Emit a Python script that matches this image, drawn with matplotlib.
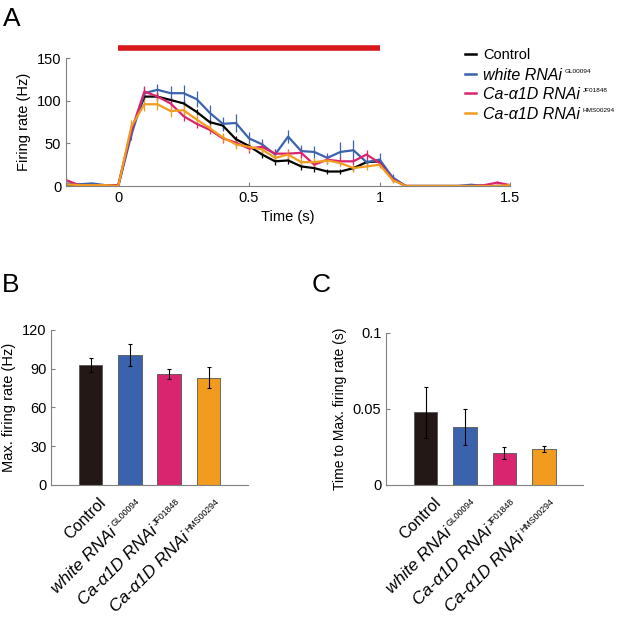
import numpy as np
import matplotlib.pyplot as plt
from matplotlib.transforms import offset_copy

plt.rcParams['font.family'] = ['Liberation Sans', 'DejaVu Sans']

# --- data ---
groups = ['Control', 'white RNAi', 'Ca-α1D RNAi', 'Ca-α1D RNAi']
sups = ['', 'GL00094', 'JF01848', 'HMS00294']
colors = ['#000000', '#3b63ad', '#d9246f', '#f29c1f']
bar_colors = ['#231815', '#3b63ad', '#d9246f', '#f29c1f']

t = [-0.2, -0.15, -0.1, -0.05, 0.0, 0.05, 0.1, 0.15, 0.2, 0.25, 0.3, 0.35,
     0.4, 0.45, 0.5, 0.55, 0.6, 0.65, 0.7, 0.75, 0.8, 0.85, 0.9, 0.95, 1.0,
     1.05, 1.1, 1.15, 1.2, 1.25, 1.3, 1.35, 1.4, 1.45, 1.5]

rate_control = [2, 1, 1, 1, 0, 65, 105, 105, 101, 97, 87, 75, 71, 55, 47, 37, 29, 30,
                23, 21, 17, 17, 21, 28, 29, 8, 0, 0, 0, 0, 0, 0, 0, 0, 0]
rate_white = [3, 2, 3, 1, 0, 60, 109, 113, 109, 109, 102, 86, 73, 74, 56, 49, 37, 58,
              41, 40, 33, 40, 42, 28, 31, 10, 0, 0, 0, 0, 0, 1.5, 0, 0, 0]
rate_jf = [7, 1, 1, 1, 1, 65, 111, 105, 97, 82, 73, 66, 56, 51, 44, 46, 38, 38,
           39, 25, 31, 29, 29, 37, 27, 8, 0, 0, 0, 0, 0, 0, 1, 4, 1]
rate_hms = [2, 1, 1, 1, 0, 70, 96, 96, 88, 89, 78, 68, 57, 49, 46, 43, 33, 37,
            28, 28, 30, 27, 21, 23, 25, 7, 0, 0, 0, 0, 0, 0, 0, 0, 1]

sem_control = [1, 0.5, 0.5, 0.5, 0.5, 5, 4, 4, 4, 4, 4, 4, 4, 4, 4, 4, 4, 4,
               4, 4, 3, 3, 3, 3, 3, 3, 0, 0, 0, 0, 0, 0, 0, 0, 0]
sem_white = [2, 1, 1, 1, 0.5, 6, 7, 7, 8, 10, 9, 9, 8, 11, 7, 6, 6, 8,
             7, 7, 6, 12, 12, 6, 8, 4, 0, 0, 0, 0, 0, 1, 0, 0, 0]
sem_jf = [3, 1, 1, 1, 1, 6, 7, 5, 6, 6, 5, 5, 5, 5, 5, 6, 5, 6,
          6, 5, 5, 5, 4, 5, 4, 3, 0, 0, 0, 0, 0, 0, 1, 2, 1]
sem_hms = [1, 0.5, 0.5, 0.5, 0.5, 8, 8, 7, 7, 7, 6, 5, 5, 6, 5, 5, 5, 5,
           5, 5, 4, 4, 4, 4, 4, 3, 0, 0, 0, 0, 0, 0, 0, 0, 1]

max_rate = [93, 100.5, 86, 83]
max_rate_err = [5.5, 8.5, 4, 8]
time_to_max = [0.0477, 0.0379, 0.021, 0.0236]
time_to_max_err = [0.017, 0.012, 0.0037, 0.0018]

stim_on, stim_off = 0.0, 1.0

rates = [rate_control, rate_white, rate_jf, rate_hms]
sems = [sem_control, sem_white, sem_jf, sem_hms]

DPI = 100
W, H = 617, 620


def px2pt(v):
    return v * 72.0 / DPI


def cap_px(size):
    return 0.716 * size * DPI / 72.0


def style_axes(ax):
    for s in ['top', 'right']:
        ax.spines[s].set_visible(False)
    for s in ['left', 'bottom']:
        ax.spines[s].set_color('#808080')
        ax.spines[s].set_linewidth(0.8)
    ax.tick_params(direction='in', length=3, color='#808080', labelsize=10.5, width=0.8)


fig = plt.figure(figsize=(W / DPI, H / DPI), dpi=DPI)
renderer = fig.canvas.get_renderer()


def text_width(s, size, style='normal'):
    tt = fig.text(0, 0, s, fontsize=size, fontstyle=style)
    w = tt.get_window_extent(renderer).width
    tt.remove()
    return w


# --- A: firing rate traces ---
axA = fig.add_axes([0.107, 0.700, 0.720, 0.206])
for i in range(4):
    axA.errorbar(t, rates[i], yerr=sems[i], color=colors[i], lw=1.6, elinewidth=0.9,
                 capsize=0)
axA.plot([stim_on, stim_off], [162, 162], color='#d7191c', lw=4, clip_on=False,
         solid_capstyle='butt')
axA.set_xlim(-0.2, 1.5)
axA.set_ylim(0, 150)
axA.set_xticks([0, 0.5, 1, 1.5])
axA.set_xticklabels(['0', '0.5', '1', '1.5'])
axA.set_yticks([0, 50, 100, 150])
axA.set_xlabel('Time (s)', fontsize=10.5)
axA.set_ylabel('Firing rate (Hz)', fontsize=10.5)
style_axes(axA)

# legend (drawn by hand so the superscripts can be small)
rows_y = [54, 74, 93, 113]
for i in range(4):
    y = rows_y[i]
    fig.add_artist(plt.Line2D([465 / W, 476 / W], [1 - y / H, 1 - y / H],
                              color=colors[i], lw=1.8))
    size = 10.5 if i == 0 else 11.5
    style = 'normal' if i == 0 else 'italic'
    fig.text(483 / W, 1 - (y + cap_px(size) / 2) / H, groups[i], fontsize=size,
             fontstyle=style, va='baseline', ha='left')
    if sups[i]:
        wm = text_width(groups[i], size, style)
        fig.text((483 + wm + 3) / W, 1 - (y - cap_px(size) / 2 + cap_px(4.6)) / H,
                 sups[i], fontsize=4.6, va='baseline', ha='left')

# --- B: max firing rate ---
pos = [1, 2, 3, 4]
axB = fig.add_axes([0.083, 0.218, 0.319, 0.250])
axB.bar(pos, max_rate, width=0.6, color=bar_colors, edgecolor='#555555', linewidth=0.6)
axB.errorbar(pos, max_rate, yerr=max_rate_err, fmt='none', ecolor='black',
             elinewidth=0.8, capsize=1.5, capthick=0.8)
axB.set_xlim(0, 5)
axB.set_ylim(0, 120)
axB.set_yticks([0, 30, 60, 90, 120])
axB.set_ylabel('Max. firing rate (Hz)', fontsize=10.5)

# --- C: time to max firing rate ---
axC = fig.add_axes([0.626, 0.218, 0.319, 0.245])
axC.bar(pos, time_to_max, width=0.6, color=bar_colors, edgecolor='#555555', linewidth=0.6)
axC.errorbar(pos, time_to_max, yerr=time_to_max_err, fmt='none', ecolor='black',
             elinewidth=0.8, capsize=1.5, capthick=0.8)
axC.set_xlim(0, 5)
axC.set_ylim(0, 0.1)
axC.set_yticks([0, 0.05, 0.1])
axC.set_yticklabels(['0', '0.05', '0.1'])
axC.set_ylabel('Time to Max. firing rate (s)', fontsize=10)

# rotated group labels with small superscripts
c = np.sqrt(0.5)
top_perp = 13.0
sup_size = 6.3
for ax in [axB, axC]:
    style_axes(ax)
    ax.tick_params(axis='x', length=0)
    ax.set_xticks(pos)
    ax.set_xticklabels([])
    base = ax.get_xaxis_transform()
    for i in range(4):
        size = 11.5 if i == 0 else 12.5
        style = 'normal' if i == 0 else 'italic'
        if sups[i]:
            ws = text_width(sups[i], sup_size)
            end_along = -4.5
            gap = 2.5
        else:
            ws, end_along, gap = 0, -1.5, 0
        along = end_along - ws - gap
        perp = top_perp + cap_px(size)
        tr = offset_copy(base, fig=fig, x=px2pt(c * (along + perp)),
                         y=px2pt(c * (along - perp)), units='points')
        ax.text(pos[i], 0, groups[i], transform=tr, rotation=45, rotation_mode='anchor',
                ha='right', va='baseline', fontsize=size, fontstyle=style)
        if sups[i]:
            along_s = end_along - ws
            perp_s = top_perp + cap_px(sup_size)
            tr_s = offset_copy(base, fig=fig, x=px2pt(c * (along_s + perp_s)),
                               y=px2pt(c * (along_s - perp_s)), units='points')
            ax.text(pos[i], 0, sups[i], transform=tr_s, rotation=45,
                    rotation_mode='anchor', ha='left', va='baseline', fontsize=sup_size)

fig.text(0.005, 0.97, 'A', fontsize=19, va='center', ha='left')
fig.text(0.003, 0.540, 'B', fontsize=19, va='center', ha='left')
fig.text(0.505, 0.540, 'C', fontsize=19, va='center', ha='left')

fig.savefig('out.png', dpi=DPI)
